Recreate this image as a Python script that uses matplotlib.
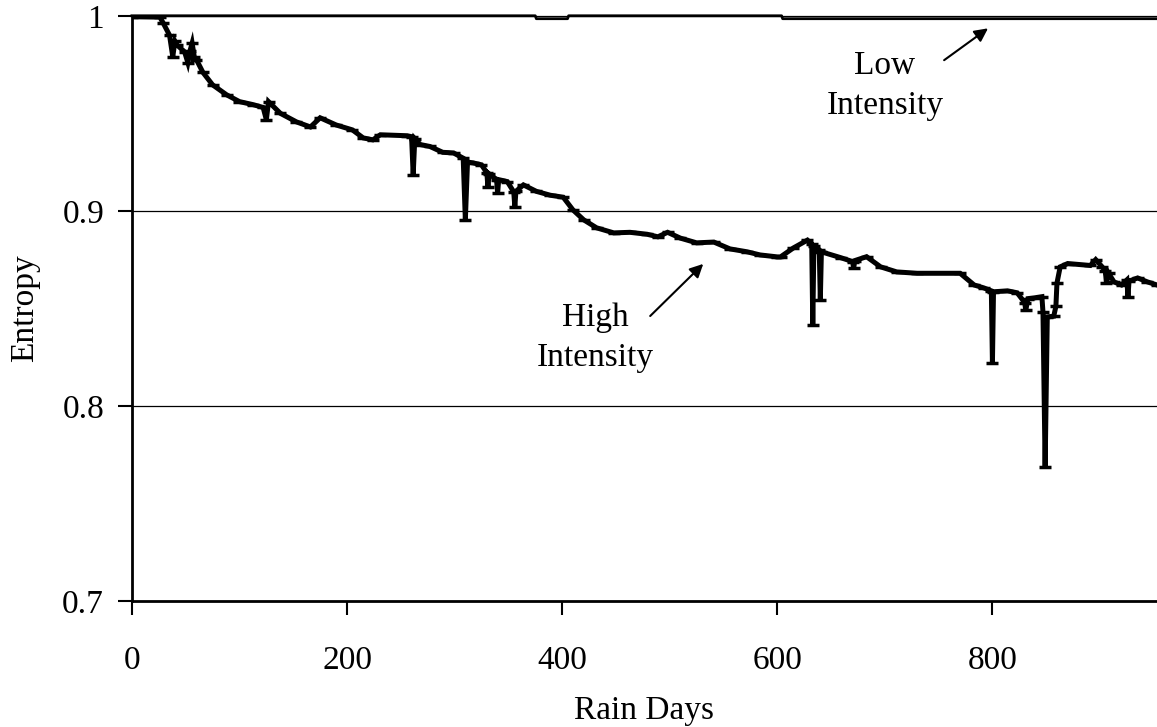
"""Entropy vs rain days for high- and low-intensity rain (recreated line chart)."""

import matplotlib
matplotlib.use("Agg")
import matplotlib.pyplot as plt

# High intensity series (rain day, entropy)
high_days = [0, 26, 29, 35, 38, 40, 42, 49, 52, 54, 56, 58, 60, 66, 75, 88, 100, 113,
             122, 125, 127, 138, 153, 166, 175, 190, 205, 215, 224, 231, 256, 260,
             261.5, 263, 268, 277, 289, 299, 308, 310, 312, 317, 325, 330, 331, 332,
             339, 340, 341, 349, 355, 356, 357, 364, 376, 389, 401, 410, 420, 432,
             448, 463, 479, 489, 498, 510, 525, 541, 556, 572, 584, 600, 603, 615,
             628, 632, 633, 634, 639, 640, 641, 659, 670, 671, 672, 683, 696, 711,
             730, 770, 783, 792, 799, 800, 801, 814, 823, 830, 831, 833, 839, 846,
             847, 849, 851, 857, 859, 860, 863, 870, 891, 896, 902, 905, 906, 908,
             913, 920, 925, 926, 927, 935, 944, 953]
high_entropy = [0.9995, 0.9993, 0.9964, 0.990, 0.979, 0.987, 0.985, 0.9815, 0.976,
                0.982, 0.986, 0.979, 0.9775, 0.971, 0.9646, 0.9595, 0.956, 0.9544,
                0.953, 0.9467, 0.956, 0.950, 0.9456, 0.943, 0.9477, 0.944, 0.9415,
                0.9374, 0.9364, 0.939, 0.9385, 0.938, 0.9185, 0.937, 0.934, 0.933,
                0.930, 0.9297, 0.927, 0.8954, 0.925, 0.9246, 0.9236, 0.9195, 0.912,
                0.919, 0.916, 0.909, 0.916, 0.915, 0.9097, 0.902, 0.910, 0.9133,
                0.910, 0.908, 0.907, 0.9005, 0.8954, 0.8913, 0.8887, 0.889, 0.888,
                0.8867, 0.889, 0.886, 0.8836, 0.884, 0.8805, 0.879, 0.8774, 0.8764,
                0.8764, 0.881, 0.885, 0.883, 0.8415, 0.882, 0.880, 0.8544, 0.879,
                0.876, 0.874, 0.8705, 0.8745, 0.8765, 0.8713, 0.8687, 0.868, 0.868,
                0.862, 0.8605, 0.859, 0.822, 0.8585, 0.859, 0.858, 0.853, 0.849,
                0.855, 0.8554, 0.856, 0.848, 0.7687, 0.8456, 0.846, 0.851, 0.863,
                0.8713, 0.873, 0.872, 0.875, 0.8713, 0.869, 0.863, 0.868, 0.8636,
                0.862, 0.8646, 0.856, 0.864, 0.8656, 0.8636, 0.862]

# Low intensity series stays at (almost) 1
low_days = [0, 375, 376, 405, 406, 604, 605, 953]
low_entropy = [1.0, 1.0, 0.9985, 0.9985, 1.0, 1.0, 0.9985, 0.9985]

x_ticks = [0, 200, 400, 600, 800]
y_ticks = [0.7, 0.8, 0.9, 1.0]
y_labels = ["0.7", "0.8", "0.9", "1"]

plt.rcParams["font.family"] = ["Liberation Serif", "DejaVu Serif"]

fig = plt.figure(figsize=(11.57, 7.27), dpi=100)
ax = fig.add_axes([0.114, 0.1733, 0.886, 0.805])

for y in y_ticks[1:]:
    ax.axhline(y, color="black", lw=0.9, zorder=1, clip_on=False)

ax.plot(high_days, high_entropy, color="black", lw=3.6, marker="_",
        markersize=8, markeredgewidth=2.5, solid_joinstyle="miter", zorder=3)
ax.plot(low_days, low_entropy, color="black", lw=2.0, zorder=3, clip_on=False)

ax.set_xlim(0, 953)
ax.set_ylim(0.7, 1.0)
ax.set_xticks(x_ticks)
ax.set_yticks(y_ticks)
ax.set_yticklabels(y_labels)
ax.tick_params(axis="both", labelsize=24, direction="out", width=1.5,
               length=10, colors="black")
ax.tick_params(axis="x", pad=22)
ax.tick_params(axis="y", pad=10)
for side in ("top", "right"):
    ax.spines[side].set_visible(False)
for side in ("left", "bottom"):
    ax.spines[side].set_linewidth(2.0)

ax.set_xlabel("Rain Days", fontsize=24, labelpad=14)
ax.set_ylabel("Entropy", fontsize=24, labelpad=16)

# annotations
ax.text(700, 0.964, "Low\nIntensity", fontsize=24, ha="center", va="center",
        linespacing=1.4)
ax.annotate("", xy=(798, 0.9944), xytext=(753, 0.9764),
            arrowprops=dict(arrowstyle="-|>", color="black", lw=1.5,
                            mutation_scale=20))
ax.text(431, 0.835, "High\nIntensity", fontsize=24, ha="center", va="center",
        linespacing=1.4)
ax.annotate("", xy=(533, 0.8738), xytext=(480, 0.8451),
            arrowprops=dict(arrowstyle="-|>", color="black", lw=1.5,
                            mutation_scale=20))

fig.savefig("out.png", dpi=100)
